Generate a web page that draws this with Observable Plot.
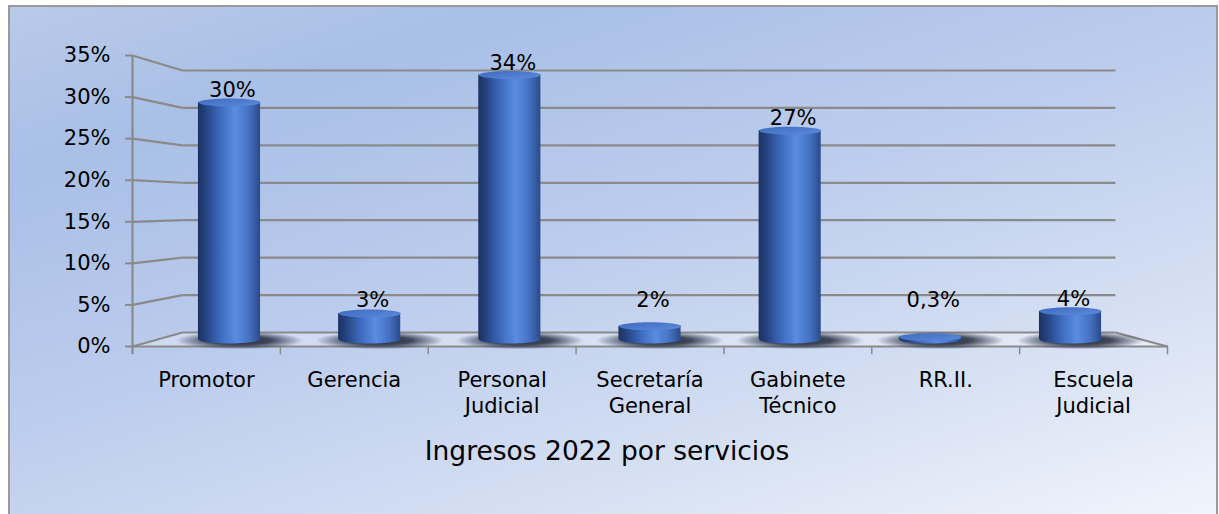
<!DOCTYPE html>
<html><head><meta charset="utf-8">
<script src="https://cdn.jsdelivr.net/npm/d3@7"></script>
<script src="https://cdn.jsdelivr.net/npm/@observablehq/plot@0.6"></script>
<style>
html,body{margin:0;padding:0;background:#fff;}
#wrap{position:relative;width:1219px;height:514px;overflow:hidden;}
#bg{position:absolute;left:8px;top:5px;width:1210px;height:540px;box-sizing:border-box;border:2px solid #9a9a9a;
 background:linear-gradient(162deg,#b9cae9 0%,#a9bfe6 18%,#bccced 45%,#d3def2 70%,#f4f7fd 100%);}
#chart{position:absolute;left:0;top:0;}
</style></head>
<body><div id="wrap"><div id="bg"></div><div id="chart"></div></div>
<script>
// ---- data ----
const categories = ["Promotor","Gerencia","Personal\nJudicial","Secretaría\nGeneral","Gabinete\nTécnico","RR.II.","Escuela\nJudicial"];
const shares = [30.2, 3.3, 33.7, 1.7, 26.6, 0.3, 3.6];
const yTicks = [0,5,10,15,20,25,30,35];
const title = "Ingresos 2022 por servicios";

// ---- perspective helpers (styling of the pseudo-3D frame) ----
const depth = 0.948;
const xMid = i => 3.5 + (i + 0.5 - 3.5) * depth;
const halfW = 0.21;
const yMid = v => 0.842 + 0.9442 * v;
const yBack = v => 1.684 + 0.9004 * v;
const xb0 = 0.338, xb1 = 6.648;

const data = categories.map((c, i) => ({c, i, v: shares[i]}));
const fmt = v => v < 1 ? v.toFixed(1).replace(".", ",") + "%" : Math.round(v) + "%";

function ellipseSym(rx, ry) {
  const k = 0.5523;
  return {draw(ctx) {
    ctx.moveTo(-rx, 0);
    ctx.bezierCurveTo(-rx, -ry*k, -rx*k, -ry, 0, -ry);
    ctx.bezierCurveTo(rx*k, -ry, rx, -ry*k, rx, 0);
    ctx.bezierCurveTo(rx, ry*k, rx*k, ry, 0, ry);
    ctx.bezierCurveTo(-rx*k, ry, -rx, ry*k, -rx, 0);
    ctx.closePath();
  }};
}

const floor = [
  {x: 0, y1: 0, y2: 0},
  {x: xb0, y1: 0, y2: yBack(0)},
  {x: xb1, y1: 0, y2: yBack(0)},
  {x: 7, y1: 0, y2: 0}
];
const gridStroke = "#8a8a8a";

const svg = Plot.plot({
  width: 1219, height: 514,
  marginLeft: 132, marginRight: 52, marginTop: 55, marginBottom: 168,
  x: {type: "linear", domain: [0, 7], axis: null},
  y: {domain: [0, 35], axis: null},
  style: {background: "transparent", fontFamily: "'DejaVu Sans', Verdana, sans-serif", color: "#000", overflow: "visible"},
  marks: [
    Plot.areaY(floor, {x: "x", y1: "y1", y2: "y2", fill: "#ffffff", fillOpacity: 0.3, curve: "linear"}),
    Plot.link(yTicks, {x1: 0, y1: d => d, x2: xb0, y2: d => yBack(d), stroke: gridStroke, strokeWidth: 2.2}),
    Plot.link(yTicks, {x1: xb0, y1: d => yBack(d), x2: xb1, y2: d => yBack(d), stroke: gridStroke, strokeWidth: 2.2}),
    Plot.link([0], {x1: xb1, y1: yBack(0), x2: 7, y2: 0, stroke: gridStroke, strokeWidth: 2.2}),
    Plot.link([0], {x1: 0, y1: 0, x2: 7, y2: 0, stroke: gridStroke, strokeWidth: 2.2}),
    Plot.ruleX([0], {y1: -1, y2: 35, stroke: gridStroke, strokeWidth: 2.2}),
    Plot.ruleX(d3.range(1, 8), {y1: -1, y2: 0, stroke: gridStroke, strokeWidth: 1.5}),
    Plot.ruleY(yTicks, {x1: -0.047, x2: 0, stroke: gridStroke, strokeWidth: 2}),
    Plot.text(yTicks, {x: 0, y: d => d, text: d => d + "%", dx: -22, textAnchor: "end", fontSize: 21, fill: "#000"}),
    // shadows
    Plot.dot(data, {x: d => xMid(d.i), y: yMid(0), symbol: ellipseSym(64, 9), dx: 10, dy: 1, fill: "url(#shadow)", stroke: "none"}),
    // cylinders
    Plot.rect(data, {x1: d => xMid(d.i) - halfW, x2: d => xMid(d.i) + halfW, y1: yMid(0), y2: d => yMid(d.v), fill: "url(#cyl)"}),
    Plot.dot(data, {x: d => xMid(d.i), y: yMid(0), symbol: ellipseSym(31, 4), fill: "url(#cyl)", stroke: "none"}),
    Plot.dot(data, {x: d => xMid(d.i), y: d => yMid(d.v), symbol: ellipseSym(31, 4), fill: "url(#cylTop)", stroke: "none"}),
    // value labels
    Plot.text(data, {x: d => xMid(d.i) + 0.02, y: d => Math.max(yMid(d.v) + 1.44, 5.53), text: d => fmt(d.v), fontSize: 21, fill: "#000", lineAnchor: "middle"}),
    // category labels
    Plot.text(data, {x: d => d.i + 0.5, y: -1, text: "c", dy: 14, lineAnchor: "top", lineHeight: 1.24, fontSize: 21, fill: "#000"}),
    // axis title
    Plot.text([title], {frameAnchor: "bottom", dx: -43, dy: 105, fontSize: 26.5, lineAnchor: "middle", fill: "#000"})
  ]
});

const defs = d3.select(svg).insert("defs", ":first-child");
const cylGrad = defs.append("linearGradient").attr("id", "cyl").attr("x1", 0).attr("x2", 1).attr("y1", 0).attr("y2", 0);
[[0, "#1b3162"], [0.12, "#25437f"], [0.35, "#3c69bd"], [0.6, "#5a8ce2"], [0.82, "#4571c2"], [1, "#2a4a8a"]]
  .forEach(([o, c]) => cylGrad.append("stop").attr("offset", o).attr("stop-color", c));
const topGrad = defs.append("linearGradient").attr("id", "cylTop").attr("x1", 0).attr("x2", 1).attr("y1", 0).attr("y2", 1);
[[0, "#3e6bbd"], [1, "#5c8ade"]].forEach(([o, c]) => topGrad.append("stop").attr("offset", o).attr("stop-color", c));
const shGrad = defs.append("radialGradient").attr("id", "shadow");
[[0, "#141a28", 0.95], [0.5, "#1c2436", 0.8], [0.8, "#2a3348", 0.35], [1, "#2a3348", 0]]
  .forEach(([o, c, a]) => shGrad.append("stop").attr("offset", o).attr("stop-color", c).attr("stop-opacity", a));

document.getElementById("chart").appendChild(svg);
</script>
</body></html>
